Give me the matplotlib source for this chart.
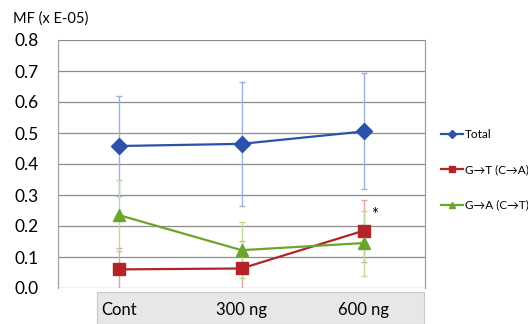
import matplotlib
matplotlib.use("Agg")
import matplotlib.pyplot as plt
from matplotlib.patches import Rectangle

categories = ["Cont", "300 ng", "600 ng"]
total = [0.458, 0.465, 0.505]
total_err = [0.16, 0.20, 0.187]
gt = [0.060, 0.063, 0.185]
gt_err = [0.07, 0.088, 0.10]
ga = [0.235, 0.122, 0.145]
ga_err = [0.115, 0.09, 0.105]
yticks = [0.0, 0.1, 0.2, 0.3, 0.4, 0.5, 0.6, 0.7, 0.8]

plt.rcParams['font.family'] = ['Lato', 'DejaVu Sans']

W, H = 528, 324
fig = plt.figure(figsize=(W/100, H/100), dpi=100)
L, R, T, B = 58, 425, 40, 288
ax = fig.add_axes([L/W, 1 - B/H, (R-L)/W, (B-T)/H])

# category box
fig.patches.append(Rectangle((97/W, 0), (424-97)/W, (324-292)/H, transform=fig.transFigure,
                             facecolor="#e7e7e7", edgecolor="#c8c8c8", lw=0.8, zorder=-1))

x = list(range(len(categories)))
series = [
    (total, total_err, "#2B52A8", "#9DB1D8", "D", 8, "Total"),
    (gt, gt_err, "#B22428", "#E4A3A3", "s", 8, "G\u2192T (C\u2192A)"),
    (ga, ga_err, "#6BA52A", "#BFD89B", "^", 8.5, "G\u2192A (C\u2192T)"),
]
handles = []
for vals, err, col, ecol, mk, ms, lab in series:
    ax.errorbar(x, vals, yerr=err, fmt="none", ecolor=ecol, elinewidth=1.0, capsize=2.5,
                capthick=1.0, zorder=2, clip_on=True)
    h, = ax.plot(x, vals, color=col, lw=1.6, marker=mk, ms=ms, mec=col, mfc=col, zorder=3,
                 label=lab)
    handles.append(h)

ax.text(2.06, 0.235, "*", fontsize=12, ha="left", va="center", color="black")

ax.set_xlim(-0.5, 2.5)
ax.set_ylim(0, 0.8)
ax.set_yticks(yticks)
ax.set_yticklabels([f"{v:.1f}" for v in yticks], fontsize=12.5)
ax.set_xticks(x)
ax.set_xticklabels(categories, fontsize=12)
ax.tick_params(axis="y", length=0, pad=14)
ax.tick_params(axis="x", length=0, pad=10)
ax.grid(axis="y", color="#8c8c8c", lw=0.9)
ax.set_axisbelow(True)
for s in ["top", "bottom"]:
    ax.spines[s].set_visible(False)
for s in ["left", "right"]:
    ax.spines[s].set_color("#a0a0a0")
    ax.spines[s].set_linewidth(0.9)

fig.text(13/W, 1 - 19/H, "MF (x E-05)", fontsize=10.5, ha="left", va="center")

leg = fig.legend(handles=handles, loc="center left", bbox_to_anchor=(430/W, 1 - 170/H),
                 frameon=False, fontsize=8.5, handlelength=1.9, handletextpad=0.15,
                 labelspacing=2.05, markerscale=0.5)

fig.savefig("out.png", dpi=100)
